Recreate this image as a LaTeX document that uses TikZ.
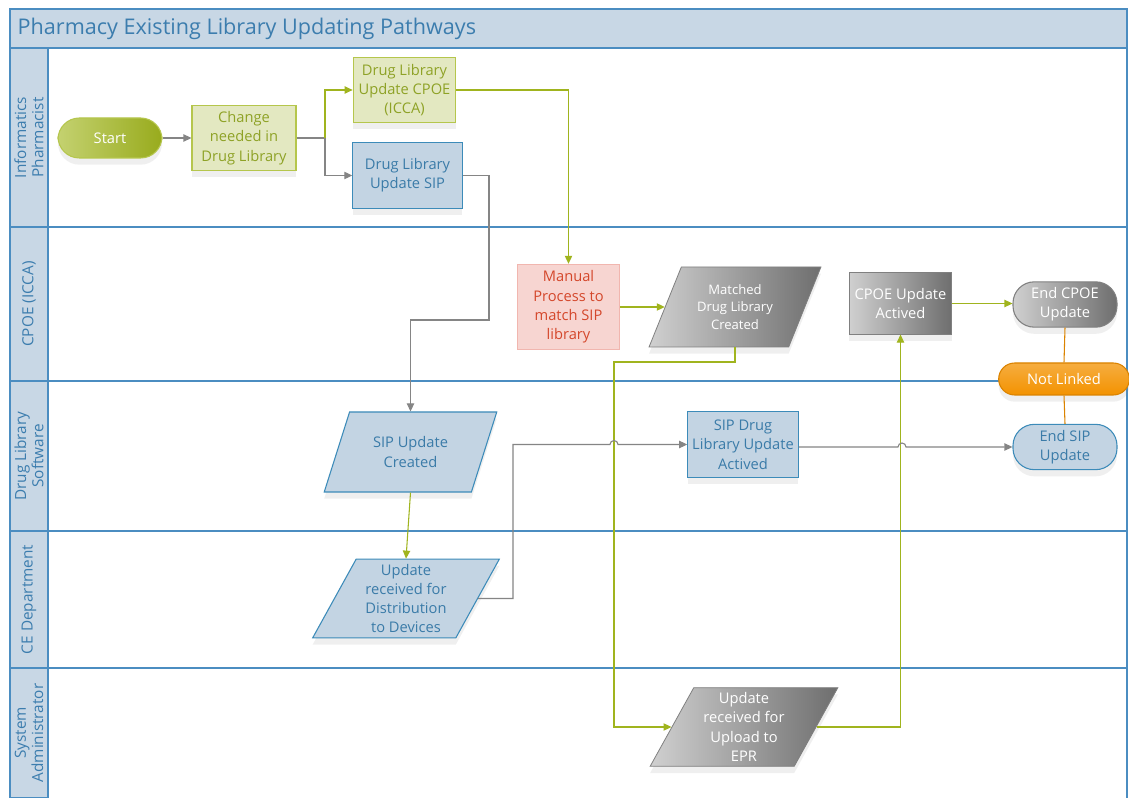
\documentclass[tikz,border=0pt]{standalone}
\usepackage{fontspec}
\setmainfont{Open Sans}
\usetikzlibrary{shapes.geometric,arrows.meta,calc,shadows}
\definecolor{frameblue}{HTML}{4B8DC1}
\definecolor{headfill}{HTML}{C8D7E5}
\definecolor{headtext}{HTML}{3C7DAE}
\definecolor{grnline}{HTML}{A0B41E}
\definecolor{grnfill}{HTML}{E3E8C1}
\definecolor{grndraw}{HTML}{B5C64C}
\definecolor{grntext}{HTML}{8EA226}
\definecolor{blufill}{HTML}{C3D4E3}
\definecolor{bludraw}{HTML}{3C8BB9}
\definecolor{blutext}{HTML}{3A7BA8}
\definecolor{pinkfill}{HTML}{F7D5D1}
\definecolor{pinkdraw}{HTML}{F1B6AF}
\definecolor{redtext}{HTML}{D4472B}
\definecolor{graylight}{HTML}{D0D0D0}
\definecolor{graydark}{HTML}{6E6E6E}
\definecolor{grayline}{HTML}{858585}
\definecolor{orng}{HTML}{F39200}
\tikzset{
    lanebox/.style = {draw=frameblue,
                    fill=headfill,
                    line width=1pt},
    lanelabel/.style = {rotate=90,
                    text=headtext,
                    align=center,
                    font=\fontsize{11.5}{13}\selectfont},
    softshadow/.style = {drop shadow={opacity=0.12,
                    shadow xshift=0pt,
                    shadow yshift=-5pt}},
    grnbox/.style = {rectangle,
                    fill=grnfill,
                    draw=grndraw,
                    text=grntext,
                    line width=0.8pt,
                    align=center,
                    softshadow,
                    font=\fontsize{11}{14.5}\selectfont},
    blubox/.style = {rectangle,
                    fill=blufill,
                    draw=bludraw,
                    text=blutext,
                    line width=0.8pt,
                    align=center,
                    softshadow,
                    font=\fontsize{11}{14.5}\selectfont},
    redbox/.style = {rectangle,
                    fill=pinkfill,
                    draw=pinkdraw,
                    text=redtext,
                    line width=0.8pt,
                    align=center,
                    font=\fontsize{11}{14.5}\selectfont},
    graybox/.style = {rectangle,
                    left color=graylight,
                    right color=graydark,
                    draw=gray,
                    text=white,
                    line width=0.6pt,
                    align=center,
                    softshadow,
                    font=\fontsize{11}{14.5}\selectfont},
    dataslant/.style = {trapezium,
                    trapezium left angle=63,
                    trapezium right angle=117,
                    trapezium stretches=true,
                    inner sep=0pt},
    terminal/.style = {rectangle,
                    rounded corners=16pt,
                    align=center,
                    line width=0.8pt,
                    softshadow,
                    font=\fontsize{11}{14.5}\selectfont},
    grnflow/.style = {draw=grnline, line width=0.8pt},
    grayflow/.style = {draw=grayline, line width=0.8pt},
    orngflow/.style = {draw=orng!90!black, line width=0.8pt},
    >={Triangle[length=6pt,width=5.5pt]}}
\begin{document}
\begin{tikzpicture}[x=0.75pt,y=-0.75pt]
\useasboundingbox (0,0) rectangle (1129,798);

% pool, title and lanes
\fill[white] (10,9) rectangle (1127,798);
\draw[lanebox] (10,9) rectangle (1127,48);
\node[anchor=west, text=headtext, font=\fontsize{16.2}{18}\selectfont] (title) at (13,28.5)
    {Pharmacy Existing Library Updating Pathways};
\draw[lanebox] (10,48) rectangle (48,798);
\draw[frameblue, line width=1pt] (1127,48) -- (1127,798);
\foreach \y in {227,381,531,668}
    \draw[frameblue, line width=1pt] (10,\y) -- (1127,\y);
\node[lanelabel] (laneA) at (29,137.5) {Informatics\\Pharmacist};
\node[lanelabel] (laneB) at (29,304) {CPOE (ICCA)};
\node[lanelabel] (laneC) at (29,456) {Drug Library\\Software};
\node[lanelabel] (laneD) at (29,599.5) {CE Department};
\node[lanelabel] (laneE) at (29,733) {System\\Administrator};

% shapes
\node[terminal, left color=grndraw!80!white, right color=grnline!95!black, draw=grndraw, text=white,
      minimum width=78pt, minimum height=30pt] (start) at (110,138) {Start};
\node[grnbox, minimum width=78pt, minimum height=49pt] (change) at (244,138) {Change\\needed in\\Drug Library};
\node[grnbox, minimum width=77pt, minimum height=49pt] (cpoe) at (404.5,90) {Drug Library\\Update CPOE\\(ICCA)};
\node[blubox, minimum width=82pt, minimum height=49pt] (sip) at (407.5,175.5) {Drug Library\\Update SIP};
\node[redbox, minimum width=77pt, minimum height=64pt] (manual) at (568.5,307) {Manual\\Process to\\match SIP\\library};
\node[graybox, dataslant, minimum width=130pt, minimum height=60pt,
      font=\fontsize{9.8}{13}\selectfont] (matched) at (735,307) {Matched\\Drug Library\\Created};
\node[graybox, minimum width=77pt, minimum height=46pt] (cpoeact) at (900.5,303.5) {CPOE Update\\Actived};
\node[terminal, left color=graylight, right color=graydark, draw=gray, text=white,
      minimum width=78pt, minimum height=34pt] (endcpoe) at (1065,304.5) {End CPOE\\Update};
\node[terminal, rounded corners=12pt, top color=orng!75!white, bottom color=orng, draw=orng!90!black, text=white,
      minimum width=98pt, minimum height=24pt] (notlinked) at (1064,379) {Not Linked};
\node[terminal, fill=blufill, draw=bludraw, text=blutext,
      minimum width=78pt, minimum height=34pt] (endsip) at (1065,447) {End SIP\\Update};
\node[blubox, dataslant, minimum width=130pt, minimum height=60pt] (sipcreated) at (410.5,452) {SIP Update\\Created};
\node[blubox, minimum width=82pt, minimum height=49pt] (sipact) at (743,444.5) {SIP Drug\\Library Update\\Actived};
\node[blubox, dataslant, minimum width=140pt, minimum height=59pt] (distrib) at (406,598.5) {Update\\received for\\Distribution\\to Devices};
\node[graybox, dataslant, minimum width=141pt, minimum height=59pt] (upload) at (744,727) {Update\\received for\\Upload to\\EPR};

% helper points
\coordinate (split) at (325,138);
\coordinate (bendA) at (489,320);
\coordinate (bendB) at (614,362);
\coordinate (bendC) at (513,444.5);
\coordinate (hopA) at (610,444.5);
\coordinate (hopB) at (898,447);

% connectors
\draw[grayflow,->] (start) -- (change);
\draw[grayflow] (change.east) -- (split);
\draw[grnflow,->] (split) |- (cpoe.west);
\draw[grayflow,->] (split) |- (sip.west);
\draw[grnflow,->] (cpoe.east) -| (manual.north);
\draw[grayflow,->] (sip.east) -| (bendA) -| (sipcreated.north);
\draw[grnflow,->] (manual.east) -- (matched.west |- manual.east);
\draw[grnflow,->] (matched.south) |- (bendB) |- (upload.west);
\draw[grnflow,->] (upload.east) -| (cpoeact.south);
\draw[grnflow,->] (cpoeact.east) -- (endcpoe.west |- cpoeact.east);
\draw[grnflow,->] (sipcreated.south) -- (distrib.north);
\draw[grayflow,->] (distrib.east) -| (bendC) -- (hopA)
    arc[start angle=180, end angle=0, radius=3pt] -- (sipact.west);
\draw[grayflow,->] (sipact.east |- hopB) -- (hopB)
    arc[start angle=180, end angle=0, radius=3pt] -- (endsip.west);
\draw[orngflow] (endcpoe.south) -- (notlinked.north);
\draw[orngflow] (notlinked.south) -- (endsip.north);
\end{tikzpicture}
\end{document}
